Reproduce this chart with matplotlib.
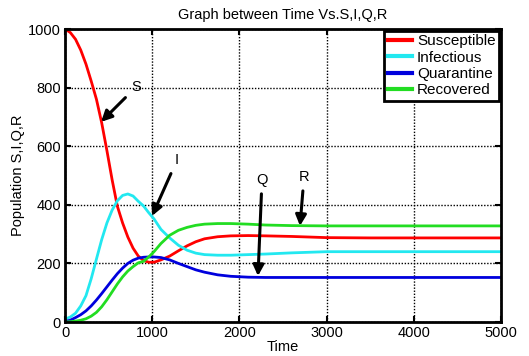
import matplotlib
matplotlib.use('Agg')
from matplotlib import pyplot as plt

plt.rcParams['font.family'] = ['Liberation Sans', 'DejaVu Sans']

# -------------------------------------------------------------------
# values
time = [0, 60, 120, 180, 240, 300, 360, 420, 480, 540, 600, 660, 720, 780,
        840, 900, 960, 1020, 1100, 1200, 1300, 1400, 1500, 1600, 1750, 1900,
        2100, 2300, 2600, 3000, 3500, 4000, 4500, 5000]

susceptible = [1000, 988, 965, 928, 880, 822, 760, 680, 585, 485, 395, 338,
               290, 252, 225, 210, 204, 204, 212, 225, 243, 260, 274, 284,
               291, 294, 295, 294, 292, 288, 287, 287, 287, 287]
infectious = [10, 17, 30, 55, 90, 148, 215, 281, 338, 382, 414, 432, 437,
              430, 412, 396, 373, 352, 316, 287, 262, 245, 235, 230, 228,
              228, 230, 232, 236, 240, 240, 240, 240, 240]
quarantine = [2, 6, 15, 25, 38, 55, 75, 97, 120, 143, 165, 184, 200, 211,
              218, 221, 222, 222, 220, 212, 200, 189, 178, 170, 161, 156,
              153, 152, 152, 152, 152, 152, 152, 152]
recovered = [0, 1, 3, 6, 11, 20, 33, 52, 76, 103, 130, 154, 174, 189, 202,
             207, 222, 240, 268, 296, 313, 323, 330, 334, 336, 336, 334,
             331, 329, 328, 328, 328, 328, 328]

names = ['Susceptible', 'Infectious', 'Quarantine', 'Recovered']
colors = ['#ff0000', '#22e8f0', '#0000dd', '#22dd22']

# label, text position, arrow tip
notes = [('S', (814, 802), (413, 683)),
         ('I', (1284, 553), (998, 362)),
         ('Q', (2259, 485), (2213, 157)),
         ('R', (2741, 495), (2695, 328))]

# -------------------------------------------------------------------
fig = plt.figure(figsize=(5.29, 3.56), dpi=100)
ax = fig.add_axes([0.123, 0.0955, 0.824, 0.823])

series = [susceptible, infectious, quarantine, recovered]
for vals, name, col in zip(series, names, colors):
    ax.plot(time, vals, color=col, lw=2, label=name)

for lab, txt, tip in notes:
    ax.annotate(lab, xy=tip, xytext=txt, ha='center', va='center', fontsize=10.5,
                arrowprops=dict(arrowstyle='-|>', color='k', lw=2.2,
                                mutation_scale=16, shrinkA=3, shrinkB=0))

ax.set_xlim(0, 5000)
ax.set_ylim(0, 1000)
ax.set_xticks(range(0, 5001, 1000))
ax.set_yticks(range(0, 1001, 200))
ax.grid(True, color='k', linestyle=(0, (1, 1.2)), linewidth=1.0)
ax.tick_params(direction='in', top=True, right=True, length=4, width=1.5,
               labelsize=10.5, pad=3)
for sp in ax.spines.values():
    sp.set_linewidth(2)

ax.set_xlabel('Time', fontsize=10.5, labelpad=0)
ax.set_ylabel('Population S,I,Q,R', fontsize=10.5, labelpad=2)
ax.set_title('Graph between Time Vs.S,I,Q,R', fontsize=10.5, pad=7)

leg = ax.legend(loc='upper right', fontsize=11, fancybox=False,
                edgecolor='k', framealpha=1, borderaxespad=0.1,
                handlelength=1.6, handletextpad=0.3, labelspacing=0.15,
                borderpad=0.25)
leg.get_frame().set_linewidth(2)
for ln in leg.get_lines():
    ln.set_linewidth(3)

fig.savefig('out.png', dpi=100)
